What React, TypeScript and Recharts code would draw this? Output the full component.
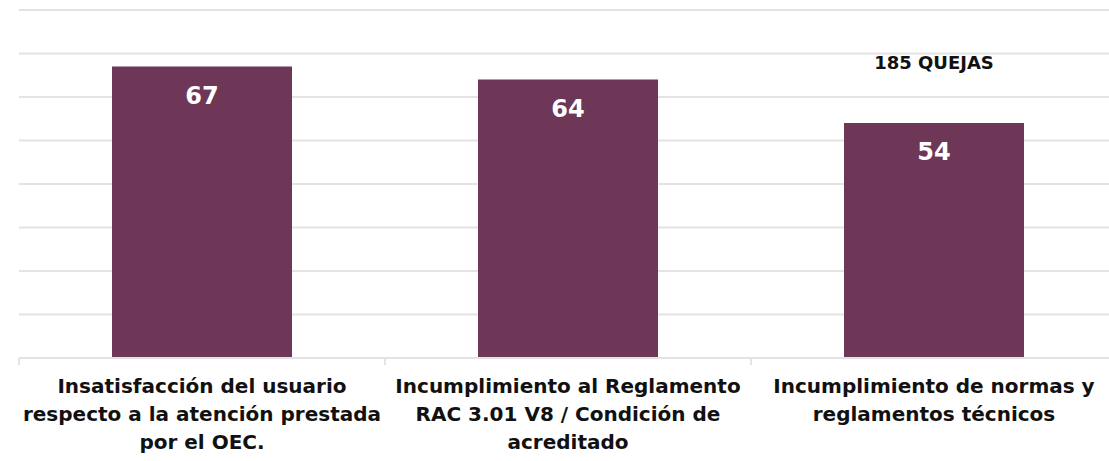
import { BarChart, Bar, XAxis, YAxis, CartesianGrid, LabelList, ReferenceDot } from 'recharts'

const categories = [
  ['Insatisfacción del usuario', 'respecto a la atención prestada', 'por el OEC.'],
  ['Incumplimiento al Reglamento', 'RAC 3.01 V8 / Condición de', 'acreditado'],
  ['Incumplimiento de normas y', 'reglamentos técnicos'],
]
const quejas = [67, 64, 54]
const yTicks = [0, 10, 20, 30, 40, 50, 60, 70, 80]
const totalLabel = '185 QUEJAS'

const data = categories.map((lines, i) => ({ name: lines.join(' '), lines, value: quejas[i] }))

const W = 1117
const H = 461
const LEFT = 19
const BAND = (W - LEFT) / categories.length

const FONT = '"DejaVu Sans", sans-serif'
const BAR = '#6e3758'
const GRID = '#e3e3e3'

function CategoryTick(props: any) {
  const { x, y, payload, index } = props
  const item = data[index] ?? data.find((d) => d.name === payload.value)
  const lines: string[] = item ? item.lines : [String(payload.value)]
  // tick y sits ~8px below the axis line
  const axisY = y - 8
  return (
    <g>
      <line x1={x - BAND / 2} x2={x - BAND / 2} y1={axisY} y2={axisY + 7} stroke={GRID} strokeWidth={2} />
      {index === data.length - 1 && (
        <line x1={x + BAND / 2} x2={x + BAND / 2} y1={axisY} y2={axisY + 7} stroke={GRID} strokeWidth={2} />
      )}
      <text x={x} y={y + 27} textAnchor="middle" fontFamily={FONT} fontWeight={700} fontSize={20} fill="#111">
        {lines.map((l, i) => (
          <tspan key={i} x={x} dy={i === 0 ? 0 : 28}>{l}</tspan>
        ))}
      </text>
    </g>
  )
}

export default function App() {
  return (
    <div style={{ position: 'absolute', left: 0, top: 0, width: 1109, height: H, overflow: 'hidden', background: '#fff' }}>
      <BarChart width={W} height={H} data={data} margin={{ top: 10, right: 0, bottom: 0, left: LEFT }} barCategoryGap={93}>
        <CartesianGrid vertical={false} stroke={GRID} strokeWidth={2} />
        <YAxis hide domain={[0, 80]} ticks={yTicks} />
        <XAxis
          dataKey="name"
          height={103}
          interval={0}
          axisLine={{ stroke: GRID, strokeWidth: 2 }}
          tickLine={false}
          tick={<CategoryTick />}
        />
        <Bar dataKey="value" fill={BAR} isAnimationActive={false}>
          <LabelList dataKey="value" position="insideTop" offset={20} fill="#fff" fontFamily={FONT} fontWeight={700} fontSize={24} />
        </Bar>
        <ReferenceDot
          x={data[2].name}
          y={68}
          r={0}
          label={{ value: totalLabel, position: 'center', fontFamily: FONT, fontWeight: 700, fontSize: 18, fill: '#111' }}
        />
      </BarChart>
    </div>
  )
}
